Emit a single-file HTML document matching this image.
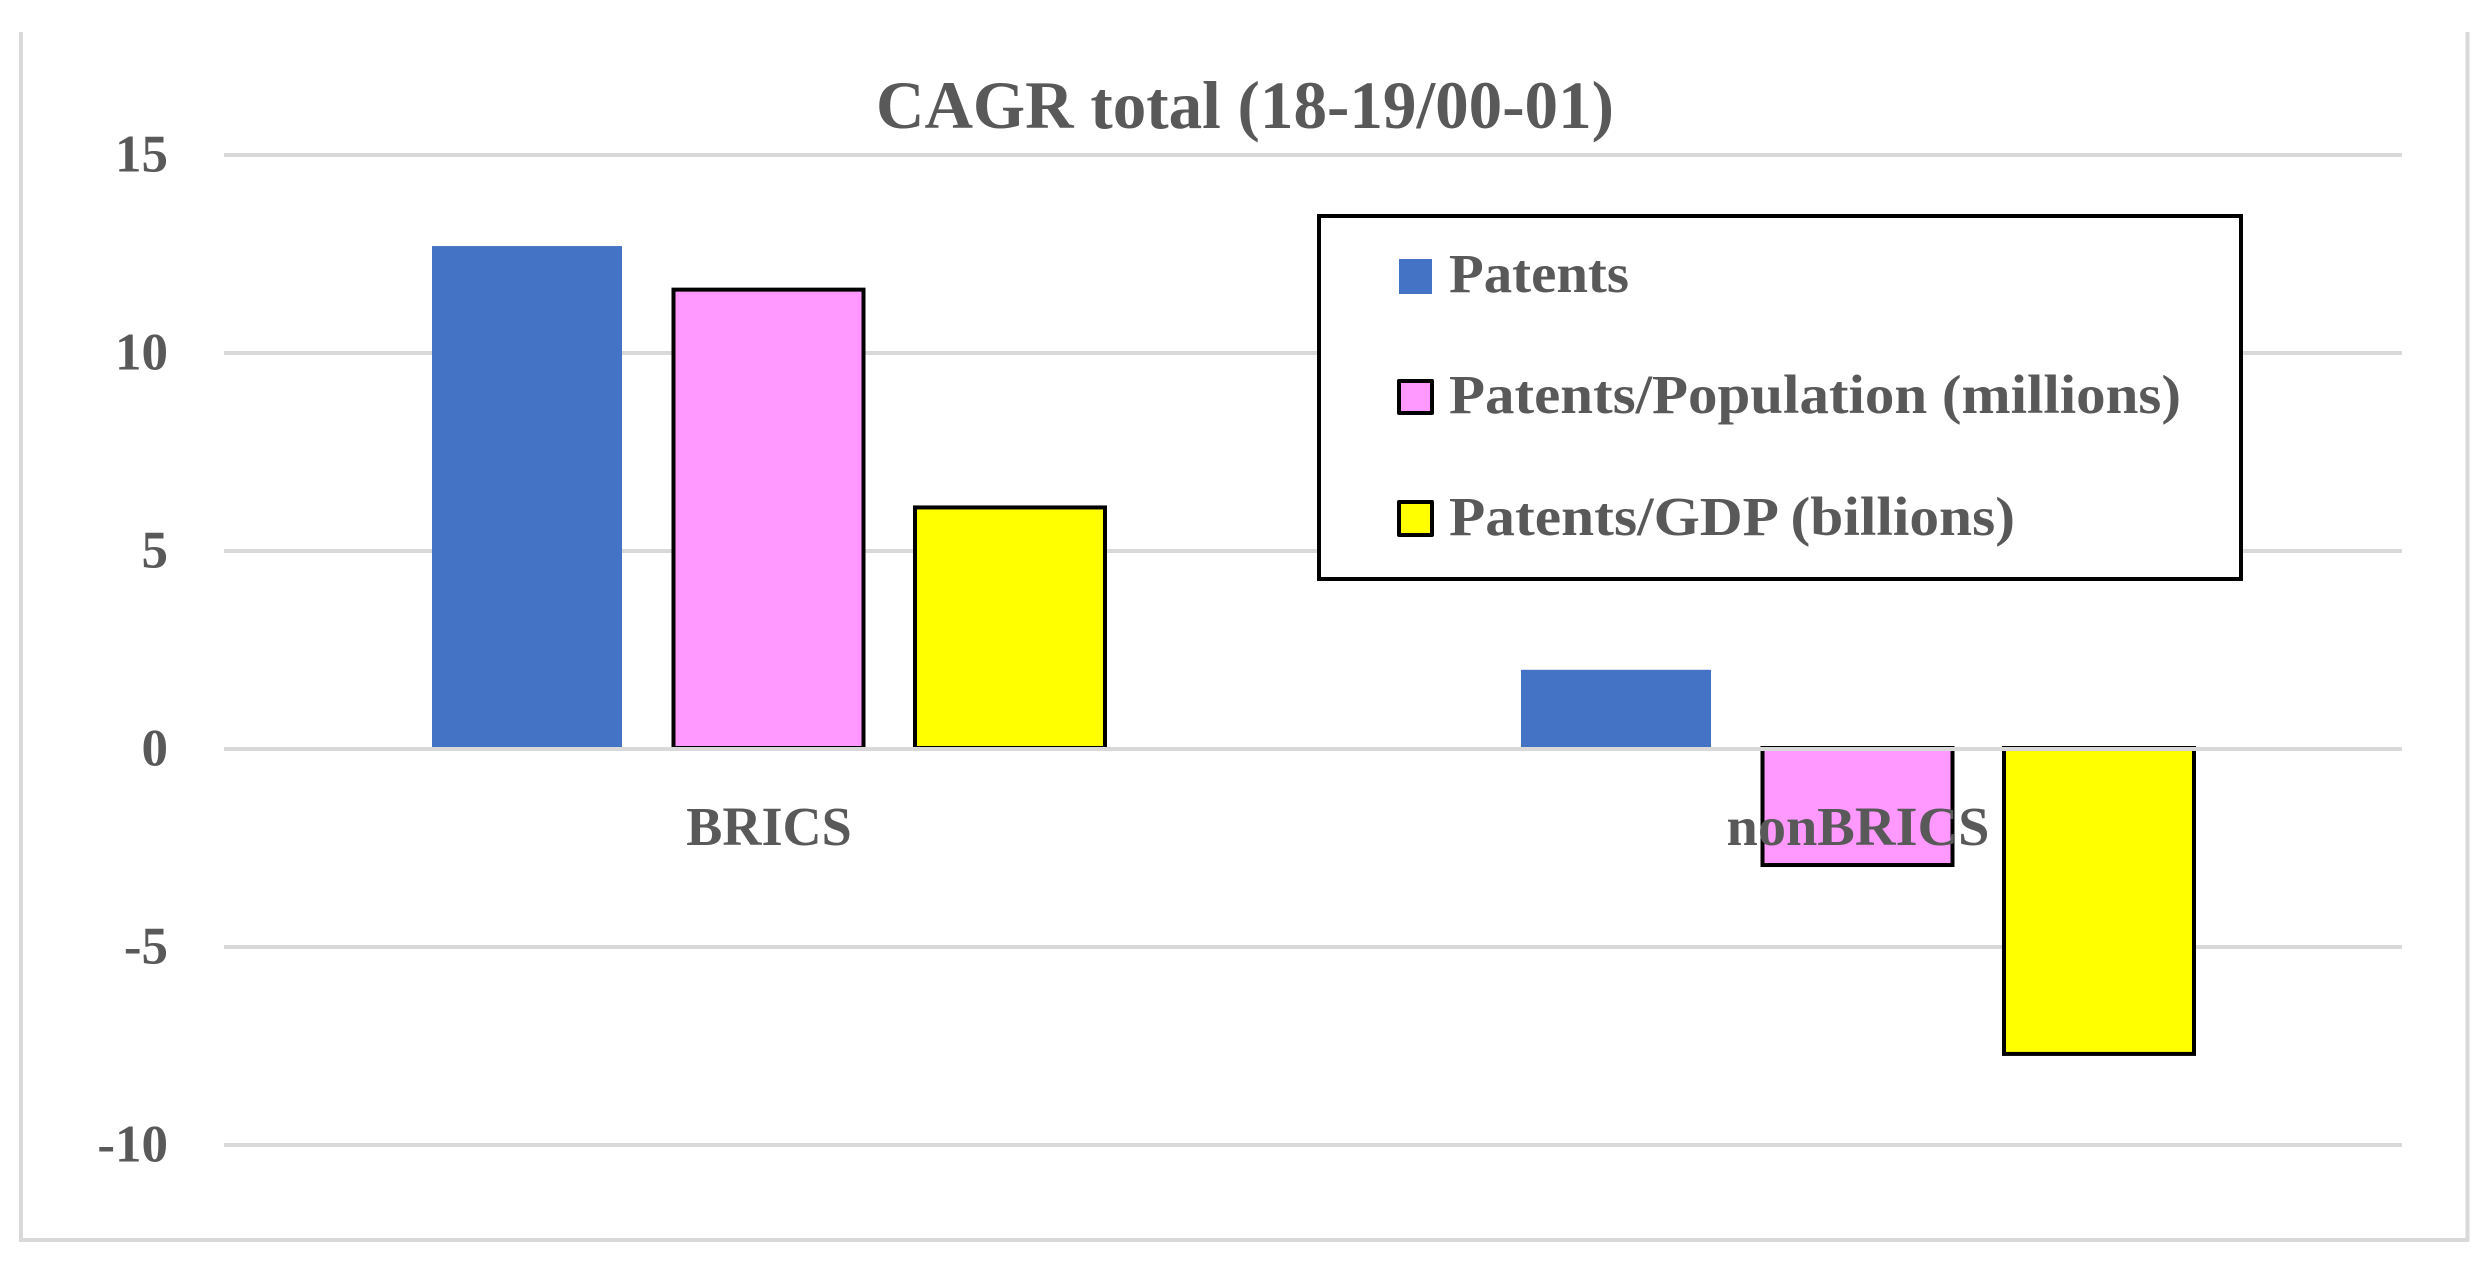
<!DOCTYPE html>
<html lang="en">
<head>
<meta charset="utf-8">
<title>CAGR total (18-19/00-01)</title>
<style>
  html, body { margin: 0; padding: 0; background: #ffffff; }
  svg { display: block; }
  text { font-family: "Liberation Serif", "DejaVu Serif", serif; font-weight: 700; fill: #595959; }
</style>
</head>
<body>
<svg id="chart" xmlns="http://www.w3.org/2000/svg" width="2490" height="1266" viewBox="0 0 2490 1266">
  <rect x="0" y="0" width="2490" height="1266" fill="#ffffff"/>
  <path d="M21 32 V1240 H2467.5 V32" fill="none" stroke="#d9d9d9" stroke-width="4"/>
  <text x="876" y="128" font-size="68" textLength="738" lengthAdjust="spacingAndGlyphs">CAGR total (18-19/00-01)</text>
  <g id="grid"></g>
  <g id="bars"></g>
  <g id="axis"></g>
  <g id="yticks"></g>
  <g id="xlabels"></g>
  <g>
    <rect x="1319" y="216" width="922" height="363" fill="#ffffff" stroke="#000000" stroke-width="4"/>
    <rect x="1399" y="259" width="33" height="35" fill="#4472c4"/>
    <text x="1449" y="292" font-size="55" textLength="180" lengthAdjust="spacingAndGlyphs">Patents</text>
    <rect x="1399" y="381" width="33" height="32" fill="#ff99ff" stroke="#000000" stroke-width="4" stroke-linejoin="round"/>
    <text x="1449" y="413" font-size="55" textLength="732" lengthAdjust="spacingAndGlyphs">Patents/Population (millions)</text>
    <rect x="1399" y="502" width="33" height="33" fill="#ffff00" stroke="#000000" stroke-width="4" stroke-linejoin="round"/>
    <text x="1449" y="535" font-size="55" textLength="566" lengthAdjust="spacingAndGlyphs">Patents/GDP (billions)</text>
  </g>
</svg>
<script>
const categories = ["BRICS", "nonBRICS"];
const seriesPatents = [12.7, 2.0];
const seriesPatentsPopulation = [11.6, -2.93];
const seriesPatentsGdp = [6.1, -7.7];
const yTickValues = [15, 10, 5, 0, -5, -10];

const NS = "http://www.w3.org/2000/svg";
const plotLeft = 224, plotRight = 2402, yZero = 749, pxPerUnit = 39.6;
const barWidth = 190, barStep = 241.5;
const labelCapScale = 59.6; // rendered width per character-weight unit of the category labels

function yScale(v) { return yZero - v * pxPerUnit; }
function xBand(i) { return plotLeft + (plotRight - plotLeft) * (i + 0.5) / categories.length; }

function make(tag, attrs, parent) {
  const el = document.createElementNS(NS, tag);
  for (const k in attrs) el.setAttribute(k, attrs[k]);
  parent.appendChild(el);
  return el;
}

const gridG = document.getElementById("grid");
const axisG = document.getElementById("axis");
const ticksG = document.getElementById("yticks");
yTickValues.forEach(function (t) {
  const parent = t === 0 ? axisG : gridG;
  const line = make("line", { x1: plotLeft, x2: plotRight, y1: yScale(t), y2: yScale(t), stroke: "#d9d9d9", "stroke-width": 4 }, parent);
  
  
  const label = make("text", { x: 168, y: yScale(t) + 16.5, "font-size": 53, "text-anchor": "end" }, ticksG);
  
  
  label.textContent = String(t);
});

const barsG = document.getElementById("bars");
function drawSeries(values, seriesIndex, fill, outlined) {
  values.forEach(function (v, i) {
    const cx = xBand(i) + (seriesIndex - 1) * barStep;
    const base = yZero - 1;
    const end = yScale(v);
    const top = Math.min(base, end);
    const height = Math.abs(base - end);
    const attrs = { x: cx - barWidth / 2, y: top, width: barWidth, height: height, fill: fill };
    if (outlined) { attrs.stroke = "#000000"; attrs["stroke-width"] = 4; }
    const bar = make("rect", attrs, barsG);
    
    
  });
}
drawSeries(seriesPatents, 0, "#4472c4", false);
drawSeries(seriesPatentsPopulation, 1, "#ff99ff", true);
drawSeries(seriesPatentsGdp, 2, "#ffff00", true);

const xG = document.getElementById("xlabels");
categories.forEach(function (c, i) {
  const label = make("text", { x: xBand(i) + 0.5, y: 845, "font-size": 55.5, "text-anchor": "middle" }, xG);
  
  
  label.textContent = c;
  // Palatino-like proportions: capitals run slightly narrower, lowercase slightly wider than Liberation Serif.
  const natural = label.getComputedTextLength();
  const target = c === c.toUpperCase() ? natural * 0.975 : natural * 1.015;
  label.setAttribute("textLength", target);
  label.setAttribute("lengthAdjust", "spacingAndGlyphs");
});
</script>
</body>
</html>
